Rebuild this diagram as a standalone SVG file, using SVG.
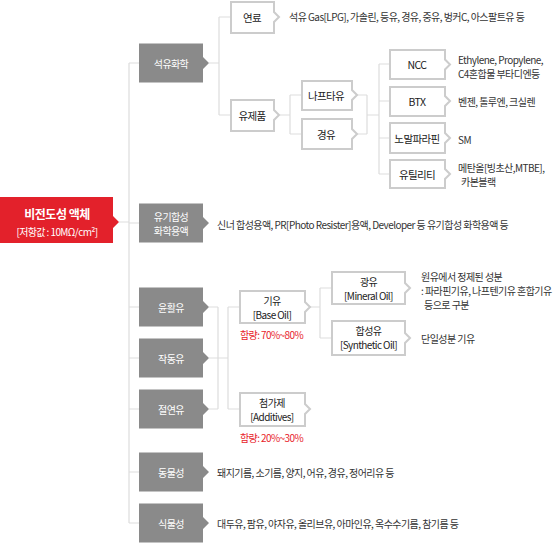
<svg xmlns="http://www.w3.org/2000/svg" width="553" height="543" viewBox="0 0 553 543">
<style>
text{font-family:"Noto Sans CJK KR","Noto Sans",sans-serif;dominant-baseline:central}
.ln{stroke:#dddddd;stroke-width:1.2;fill:none}
.gb{fill:#8a8a8a}
.gt{fill:#ffffff;font-size:10px;letter-spacing:-0.6px;text-anchor:middle}
.wb{fill:#ffffff;stroke:#cccccc;stroke-width:2}
.bt{fill:#222222;font-size:10.5px;letter-spacing:-0.6px;text-anchor:middle}
.bs{fill:#222222;font-size:10px;letter-spacing:-0.6px;text-anchor:middle}
.dt{fill:#333333;font-size:10px;letter-spacing:-0.55px}
.rt{fill:#e8232b;font-size:10px;letter-spacing:-0.6px}
</style>
<rect width="553" height="543" fill="#ffffff"/>
<g id="connectors">
<path class="ln" d="M119 222H129M129 63V523M129 63H139M129 223H139M129 307H139M129 358H139M129 409H139M129 472H139M129 523H139"/>
<path class="ln" d="M209 63H219M219 17V115M219 17H231M219 115H231"/>
<path class="ln" d="M280 115H290M290 95V134M290 95H302M290 134H302"/>
<path class="ln" d="M357 95H367M357 134H367M367 95V134M367 115H379M379 64V174M379 64H390M379 101H390M379 138H390M379 174H390"/>
<path class="ln" d="M209 307H218M209 358H228M209 409H218M218 307V409M228 307V409M228 307H240M228 409H240"/>
<path class="ln" d="M310 307H320M320 288V338M320 288H332M320 338H332"/>
</g>
<g id="root">
<path d="M0 197H113V216L119 222L113 228V243H0Z" fill="#e3212b"/>
<text x="57" y="213" fill="#ffffff" font-size="12" font-weight="bold" text-anchor="middle" letter-spacing="-0.5">비전도성 액체</text>
<text x="57" y="231" fill="#ffffff" font-size="10" text-anchor="middle" letter-spacing="-0.6">[저항값 : 10MΩ/cm²]</text>
</g>
<g id="petro">
<path class="gb" d="M139 43.5H203V57L209 63L203 69V82.5H139Z"/>
<text class="gt" x="171" y="63">석유화학</text>
</g>
<g id="organic">
<path class="gb" d="M139 203.5H203V217L209 223L203 229V242.5H139Z"/>
<text class="gt" x="171" y="216">유기합성</text>
<text class="gt" x="171" y="230.5">화학용액</text>
</g>
<g id="lube">
<path class="gb" d="M139 287.5H203V301L209 307L203 313V326.5H139Z"/>
<text class="gt" x="171" y="307">윤활유</text>
</g>
<g id="hydraulic">
<path class="gb" d="M139 338.5H203V352L209 358L203 364V377.5H139Z"/>
<text class="gt" x="171" y="358">작동유</text>
</g>
<g id="insulating">
<path class="gb" d="M139 389.5H203V403L209 409L203 415V428.5H139Z"/>
<text class="gt" x="171" y="409">절연유</text>
</g>
<g id="animal">
<path class="gb" d="M139 452.5H203V466L209 472L203 478V491.5H139Z"/>
<text class="gt" x="171" y="472">동물성</text>
</g>
<g id="vegetable">
<path class="gb" d="M139 503.5H203V517L209 523L203 529V542.5H139Z"/>
<text class="gt" x="171" y="523">식물성</text>
</g>
<g id="fuel">
<path class="wb" d="M231 2H274V12L279 17L274 22V33H231Z"/>
<text class="bt" x="252" y="17">연료</text>
</g>
<g id="products">
<path class="wb" d="M231 100H274V110L279 115L274 120V131H231Z"/>
<text class="bt" x="252" y="115">유제품</text>
</g>
<g id="naphtha">
<path class="wb" d="M302 81H352V90L357 95L352 100V110H302Z"/>
<text class="bt" x="326" y="95">나프타유</text>
</g>
<g id="gasoil">
<path class="wb" d="M302 119H352V129L357 134L352 139V149H302Z"/>
<text class="bt" x="326" y="134">경유</text>
</g>
<g id="ncc">
<path class="wb" d="M390 50H445V59.5L450 64.5L445 69.5V79H390Z"/>
<text class="bt" x="417" y="64.5">NCC</text>
</g>
<g id="btx">
<path class="wb" d="M390 87H445V96L450 101L445 106V116H390Z"/>
<text class="bt" x="417" y="101">BTX</text>
</g>
<g id="nparaffin">
<path class="wb" d="M390 123H445V133L450 138L445 143V153H390Z"/>
<text class="bt" x="417" y="138">노말파라핀</text>
</g>
<g id="utility">
<path class="wb" d="M390 160H445V169L450 174L445 179V188H390Z"/>
<text class="bt" x="417" y="174">유틸리티</text>
</g>
<g id="baseoil">
<path class="wb" d="M240 291H305V302L310 307L305 312V323H240Z"/>
<text class="bs" x="272" y="300">기유</text>
<text class="bs" x="272" y="314.5">[Base Oil]</text>
<text class="rt" x="240" y="334">함량: 70%~80%</text>
</g>
<g id="additives">
<path class="wb" d="M240 393H305V404L310 409L305 414V426H240Z"/>
<text class="bs" x="272" y="402">첨가제</text>
<text class="bs" x="272" y="416.5">[Additives]</text>
<text class="rt" x="240" y="437">함량: 20%~30%</text>
</g>
<g id="mineral">
<path class="wb" d="M332 272H405V283L410 288L405 293V304H332Z"/>
<text class="bs" x="368.5" y="281">광유</text>
<text class="bs" x="368.5" y="295.5">[Mineral Oil]</text>
</g>
<g id="synthetic">
<path class="wb" d="M332 321H405V333L410 338L405 343V355H332Z"/>
<text class="bs" x="368.5" y="330">합성유</text>
<text class="bs" x="368.5" y="344.5">[Synthetic Oil]</text>
</g>
<g id="descriptions">
<text class="dt" x="289" y="16">석유 Gas[LPG], 가솔린, 등유, 경유, 중유, 벙커C, 아스팔트유 등</text>
<text class="dt" x="458" y="59">Ethylene, Propylene,</text>
<text class="dt" x="458" y="73">C4혼합물 부타디엔등</text>
<text class="dt" x="458" y="101">벤젠, 톨루엔, 크실렌</text>
<text class="dt" x="458" y="139">SM</text>
<text class="dt" x="458" y="167">메탄올[빙초산,MTBE],</text>
<text class="dt" x="461" y="181">카본블랙</text>
<text class="dt" x="217" y="224">신너 합성용액, PR[Photo Resister]용액, Developer 등 유기합성 화학용액 등</text>
<text class="dt" x="421" y="276">원유에서 정제된 성분</text>
<text class="dt" x="421" y="290">: 파라핀기유, 나프텐기유 혼합기유</text>
<text class="dt" x="424" y="304">등으로 구분</text>
<text class="dt" x="421" y="338">단일성분 기유</text>
<text class="dt" x="217" y="472">돼지기름, 소기름, 양지, 어유, 경유, 정어리유 등</text>
<text class="dt" x="217" y="523">대두유, 팜유, 야자유, 올리브유, 아마인유, 옥수수기름, 참기름 등</text>
</g>
</svg>
